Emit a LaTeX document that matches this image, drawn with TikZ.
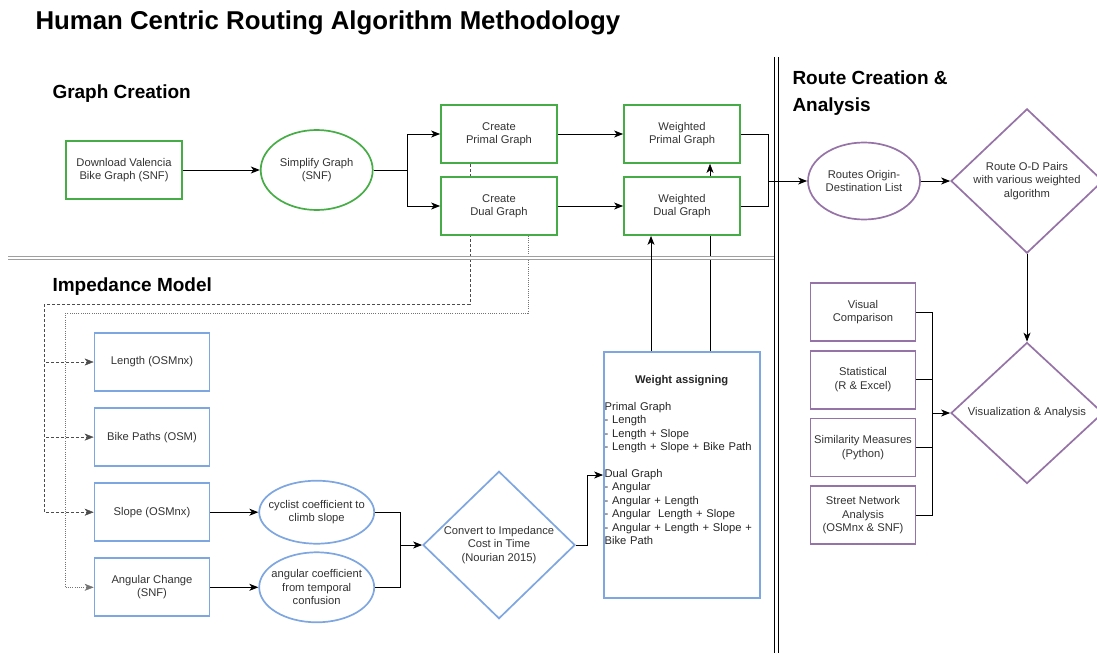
\documentclass[tikz,border=0pt]{standalone}
\usepackage{fontspec}
\setmainfont{Liberation Sans}
\usetikzlibrary{positioning,shapes.geometric,arrows.meta,backgrounds}
\definecolor{boxgreen}{HTML}{46AD46}
\definecolor{boxblue}{HTML}{7EA6E0}
\definecolor{boxpurple}{HTML}{9673A6}
\definecolor{textgray}{HTML}{333333}

\begin{document}
\begin{tikzpicture}[->, >={Stealth[length=9pt,width=7pt,inset=2.5pt]}, x=1pt, y=-1pt, line width=1pt,
  green box/.style={rectangle, draw=boxgreen, line width=1.7pt, fill=white, minimum width=116pt, minimum height=58pt, inner sep=2pt, align=center},
  green ellipse/.style={ellipse, draw=boxgreen, line width=1.7pt, fill=white, minimum width=112pt, minimum height=80pt, inner sep=0pt, align=center},
  blue box/.style={rectangle, draw=boxblue, line width=1.7pt, fill=white, minimum width=115pt, minimum height=58pt, inner sep=2pt, align=center},
  blue ellipse/.style={ellipse, draw=boxblue, line width=1.7pt, fill=white, minimum width=115pt, minimum height=63pt, inner xsep=-10pt, inner ysep=0pt, align=center},
  blue diamond/.style={diamond, draw=boxblue, line width=1.7pt, fill=white, minimum width=152pt, minimum height=140pt, inner sep=0pt, align=center},
  purple box/.style={rectangle, draw=boxpurple, line width=1.7pt, fill=white, minimum width=105pt, minimum height=58pt, inner sep=2pt, align=center},
  purple ellipse/.style={ellipse, draw=boxpurple, line width=1.7pt, fill=white, minimum width=112pt, minimum height=77pt, inner sep=0pt, align=center},
  purple diamond/.style={diamond, draw=boxpurple, line width=1.7pt, fill=white, minimum width=152pt, minimum height=141pt, inner sep=0pt, align=center},
  head/.style={text=black, inner sep=0pt, font=\fontsize{19}{27}\selectfont\bfseries, align=left},
  dashed link/.style={dash pattern=on 3pt off 2pt, draw=black!70},
  dotted link/.style={dash pattern=on 1pt off 1.2pt, draw=black!55}]
        \tikzstyle{every node}=[font=\fontsize{11.2}{13.4}\selectfont, text=textgray]
        \useasboundingbox (0,0) rectangle (1097,653);

          % headings
          \node[head, anchor=base west, font=\fontsize{25.8}{30}\selectfont\bfseries] (title) at (35,29) {Human Centric Routing Algorithm Methodology};
          \node[head, anchor=base west] (graph head) at (52,98) {Graph Creation};
          \node[head, anchor=base west] (imp head) at (52,291) {Impedance Model};
          \node[head, anchor=base west] (route head) at (792,111) {Route Creation \&\\Analysis};

          % graph creation
          \node[green box] (1) at (124,170) {Download Valencia\\Bike Graph (SNF)};
          \node[green ellipse] (2) [right=77pt of 1] {Simplify Graph\\(SNF)};
          \node[green box] (3) at (499,134) {Create\\Primal Graph};
          \node[green box] (4) at (499,206) {Create\\Dual Graph};
          \node[green box] (5) at (682,134) {Weighted\\Primal Graph};
          \node[green box] (6) at (682,206) {Weighted\\Dual Graph};

          % route creation & analysis
          \node[purple ellipse] (7) at (864,181) {Routes Origin-\\Destination List};
          \node[purple diamond] (8) at (1027,181) {Route O-D Pairs\\with various weighted\\algorithm};
          \node[purple diamond] (9) at (1027,413) {Visualization \& Analysis};
          \node[purple box] (10) at (863,312) {Visual\\Comparison};
          \node[purple box] (11) [below=8pt of 10] {Statistical\\(R \& Excel)};
          \node[purple box] (12) [below=8pt of 11] {Similarity Measures\\(Python)};
          \node[purple box] (13) [below=8pt of 12] {Street Network\\Analysis\\(OSMnx \& SNF)};

          % impedance model
          \node[blue box] (14) at (152,362) {Length (OSMnx)};
          \node[blue box] (15) [below=15.4pt of 14] {Bike Paths (OSM)};
          \node[blue box] (16) [below=15.4pt of 15] {Slope (OSMnx)};
          \node[blue box] (17) [below=15.4pt of 16] {Angular Change\\(SNF)};
          \node[blue ellipse] (18) [right=48pt of 16] {cyclist coefficient to\\climb slope};
          \node[blue ellipse, minimum height=70pt] (19) [right=48pt of 17] {angular coefficient\\from temporal\\confusion};
          \node[blue diamond] (20) at (499,545) {Convert to Impedance\\Cost in Time\\(Nourian 2015)};
          \node[blue box, minimum width=156pt, minimum height=246pt] (21) at (682,475) {};
          \node[anchor=north west, inner sep=0pt, text width=154pt, align=left, text=black!85] (22) at ([xshift=1pt,yshift=-24pt]21.north west)
            {\makebox[154pt]{\bfseries Weight assigning}\\[13.4pt]
             Primal Graph\\
             - Length\\
             - Length + Slope\\
             - Length + Slope + Bike Path\\[13.4pt]
             Dual Graph\\
             - Angular\\
             - Angular + Length\\
             - Angular\ \ Length + Slope\\
             - Angular + Length + Slope +\\
             Bike Path};

          \coordinate (s) at (407,170);
          \coordinate (j) at (768,181);
          \coordinate (k) at (932,413);
          \coordinate (m) at (400,545);
          \coordinate (d1) at (44,304);
          \coordinate (d2) at (65,313);

          \path
            (1) edge (2)
            (3) edge (5)
            (4) edge (6)
            (7) edge (8)
            (8) edge (9)
            (16) edge (18)
            (17) edge (19);

          \draw[-] (2) -- (s);
          \draw (s) |- (3);
          \draw (s) |- (4);
          \draw[-] (5) -| (j);
          \draw[-] (6) -| (j);
          \draw (j) -- (7);
          \draw[-] (10) -| (k);
          \draw[-] (11) -| (k);
          \draw[-] (12) -| (k);
          \draw[-] (13) -| (k);
          \draw (k) -- (9);
          \draw[-] (18) -| (m);
          \draw[-] (19) -| (m);
          \draw (m) -- (20);
          \draw (20.east) -- ++(12,0) |- (21.west);
          \draw ([xshift=-31pt]21.north) -- ([xshift=-31pt]6.south);

          \begin{scope}[on background layer]
            \draw ([xshift=28pt]21.north) -- ([xshift=28pt]5.south);
            \draw[-, dashed link] ([xshift=-29pt]3.south) |- (d1);
            \draw[dashed link] (d1) |- (14);
            \draw[dashed link] (d1) |- (15);
            \draw[dashed link] (d1) |- (16);
            \draw[-, dotted link] ([xshift=29pt]4.south) |- (d2);
            \draw[dotted link] (d2) |- (17);
            % section rules
            \draw[-, draw=gray!75, double=white, double distance=2.6pt, line width=1pt] (8,258) -- (776,258);
            \draw[-, double=white, double distance=3.6pt, line width=0.9pt] (776.5,57) -- (776.5,653);
          \end{scope}

        \end{tikzpicture}
\end{document}
